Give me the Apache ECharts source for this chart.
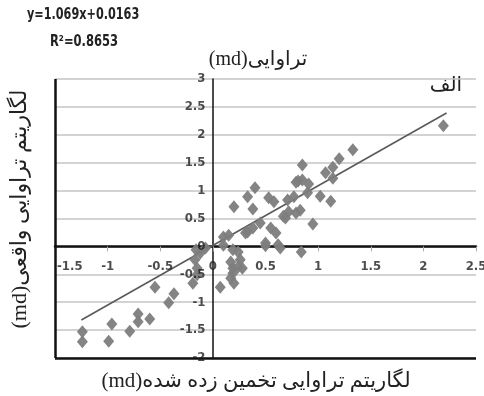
<!DOCTYPE html>
<html>
<head>
<meta charset="utf-8">
<script src="https://cdn.jsdelivr.net/npm/echarts@6/dist/echarts.min.js"></script>
<style>
  html, body { margin: 0; padding: 0; background: #fff; }
  #chart { width: 484px; height: 396px; }
</style>
</head>
<body>
<div id="chart"></div>
<script>
// Log of estimated permeability (x) vs log of measured permeability (y)
const logEstimated = [
  -1.24, -1.24, -0.99, -0.96, -0.79, -0.71, -0.71, -0.60, -0.55, -0.42,
  -0.37, -0.19, -0.15, -0.15, -0.17, -0.12, -0.16, -0.07, 0.07, 0.10,
  0.15, 0.10, 0.19, 0.24, 0.17, 0.26, 0.19, 0.24, 0.19, 0.17,
  0.20, 0.28, 0.33, 0.38, 0.31, 0.20, 0.33, 0.40, 0.38, 0.45,
  0.50, 0.50, 0.53, 0.58, 0.55, 0.60, 0.62, 0.64, 0.71, 0.72,
  0.69, 0.67, 0.79, 0.84, 1.33, 1.20, 1.14, 1.07, 0.85, 0.81,
  0.85, 0.91, 1.02, 1.12, 0.77, 0.79, 0.83, 0.90, 0.95, 2.19,
  1.14
];
const logActual = [
  -1.53, -1.71, -1.70, -1.39, -1.52, -1.21, -1.35, -1.30, -0.73, -1.01,
  -0.85, -0.66, -0.51, -0.39, -0.24, -0.12, -0.06, -0.03, -0.73, 0.17,
  0.20, 0.02, -0.06, -0.10, -0.28, -0.24, -0.39, -0.37, -0.48, -0.57,
  -0.66, -0.39, 0.26, 0.33, 0.24, 0.71, 0.89, 1.05, 0.67, 0.42,
  0.01, 0.06, 0.87, 0.80, 0.33, 0.24, 0.03, -0.03, 0.83, 0.62,
  0.51, 0.54, 1.15, -0.10, 1.73, 1.57, 1.42, 1.32, 1.46, 1.17,
  1.19, 1.12, 0.90, 0.81, 0.89, 0.60, 0.65, 0.96, 0.40, 2.16,
  1.22
];

// Linear fit
const fitSlope = 1.069;
const fitIntercept = 0.0163;
const fitRange = [-1.25, 2.22];

// Axis extents and tick labels (labels sit along the zero lines)
const xRange = [-1.5, 2.5];
const yRange = [-2, 3];
const tickStep = 0.5;
const xTickValues = [-1.5, -1, -0.5, 0, 0.5, 1, 1.5, 2, 2.5];
const yTickValues = [-2, -1.5, -1, -0.5, 0, 0.5, 1, 1.5, 2, 2.5, 3];

const points = logEstimated.map((x, i) => [x, logActual[i]]);
const fitLine = fitRange.map(x => [x, fitSlope * x + fitIntercept]);

const tickFont = '"Liberation Sans Narrow", "DejaVu Sans Condensed", Arial, sans-serif';
const titleFont = '"Liberation Serif", "DejaVu Sans", serif';

const tickLabelStyle = {
  show: true,
  color: '#1e1e1e',
  fontFamily: tickFont,
  fontWeight: 'bold',
  fontSize: 13,
  formatter: p => String(p.value[2])
};

const xTickData = xTickValues.map((v, i) => {
  const item = { value: [v, 0, v] };
  if (i === 0) item.label = { align: 'left', offset: [2, 0] };
  return item;
});
const yTickData = yTickValues.map(v => ({ value: [0, v, v] }));

const chart = echarts.init(document.getElementById('chart'), null, { renderer: 'canvas' });

chart.setOption({
  animation: false,
  backgroundColor: '#ffffff',
  grid: { left: 55, right: 8, top: 79, bottom: 38, containLabel: false },
  xAxis: {
    type: 'value',
    min: xRange[0],
    max: xRange[1],
    interval: tickStep,
    axisLine: { show: true, onZero: true, lineStyle: { color: '#111', width: 2.5 } },
    axisTick: { show: true, length: 5, lineStyle: { color: '#aaa', width: 1 } },
    axisLabel: { show: false },
    splitLine: { show: false }
  },
  yAxis: {
    type: 'value',
    min: yRange[0],
    max: yRange[1],
    interval: tickStep,
    axisLine: { show: true, onZero: true, lineStyle: { color: '#111', width: 1.5 } },
    axisTick: { show: false },
    axisLabel: { show: false },
    splitLine: { show: true, lineStyle: { color: '#c4c4c4', width: 1.5 } }
  },
  series: [
    {
      type: 'line',
      data: fitLine,
      symbol: 'none',
      lineStyle: { color: '#5a5a5a', width: 1.6 },
      silent: true,
      z: 3
    },
    {
      type: 'scatter',
      data: points,
      symbol: 'diamond',
      symbolSize: [11, 13],
      itemStyle: { color: '#7d7d7d', opacity: 0.95 },
      z: 4,
      // left and bottom frame lines at the axis extents
      markLine: {
        silent: true,
        symbol: ['none', 'none'],
        label: { show: false },
        lineStyle: { color: '#111', width: 2.5, type: 'solid' },
        data: [{ xAxis: xRange[0] }, { yAxis: yRange[0] }]
      }
    },
    {
      // x tick labels below the zero line
      type: 'scatter',
      data: xTickData,
      symbolSize: 1,
      itemStyle: { color: 'transparent' },
      silent: true,
      z: 5,
      label: Object.assign({ position: 'bottom', distance: 13 }, tickLabelStyle)
    },
    {
      // y tick labels left of the zero line
      type: 'scatter',
      data: yTickData,
      symbolSize: 1,
      itemStyle: { color: 'transparent' },
      silent: true,
      z: 5,
      label: Object.assign({ position: 'left', distance: 7 }, tickLabelStyle)
    }
  ],
  graphic: [
    {
      type: 'text', x: 27, y: 15, scaleX: 0.78,
      style: { text: 'y=1.069x+0.0163', fill: '#222', font: 'bold 16px ' + tickFont, align: 'left', verticalAlign: 'middle' }
    },
    {
      type: 'text', x: 84, y: 42, scaleX: 0.8,
      style: { text: 'R\u00B2=0.8653', fill: '#222', font: 'bold 16px ' + tickFont, align: 'center', verticalAlign: 'middle' }
    },
    {
      type: 'text', x: 258, y: 60,
      style: { text: '(md)تراوایی', fill: '#222', font: '20px ' + titleFont, align: 'center', verticalAlign: 'middle' }
    },
    {
      type: 'text', x: 446, y: 86,
      style: { text: 'الف', fill: '#222', font: '20px ' + titleFont, align: 'center', verticalAlign: 'middle' }
    },
    {
      type: 'text', x: 256, y: 381,
      style: { text: '(md)لگاریتم تراوایی تخمین زده شده', fill: '#222', font: '21px ' + titleFont, align: 'center', verticalAlign: 'middle' }
    },
    {
      type: 'text', x: 20, y: 209, rotation: Math.PI / 2,
      style: { text: '(md)لگاریتم تراوایی واقعی', fill: '#222', font: '22px ' + titleFont, align: 'center', verticalAlign: 'middle' }
    }
  ]
});
</script>
</body>
</html>
